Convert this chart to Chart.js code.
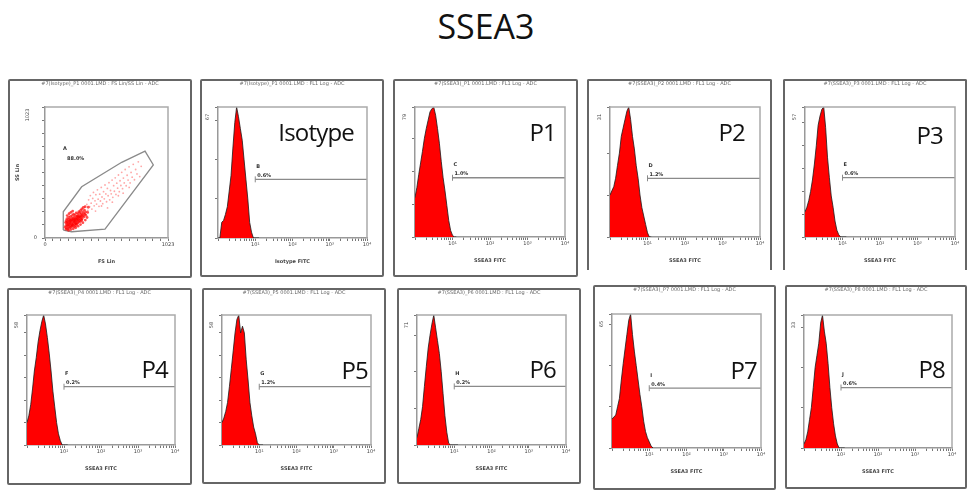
<!DOCTYPE html>
<html>
<head>
<meta charset="utf-8">
<script src="https://cdn.jsdelivr.net/npm/chart.js@4.4.0/dist/chart.umd.min.js"></script>
<style>
  body { margin: 0; width: 972px; height: 502px; background: #fff; position: relative; overflow: hidden;
         font-family: "Open Sans", "Noto Sans", sans-serif; }
  .box { position: absolute; border: 2px solid #666; border-radius: 2px; box-sizing: border-box; }
  .box.open { border-bottom: none; border-radius: 2px 2px 0 0; }
  canvas { position: absolute; }
  .tag { position: absolute; width: 200px; text-align: right; font-size: 24px; line-height: 24px; color: #111; letter-spacing: -0.8px; }
  #title { position: absolute; left: 0; width: 972px; top: 6px; text-align: center; font-size: 34px; line-height: 40px; color: #111; }
</style>
</head>
<body>
<div id="title">SSEA3</div>
<script>
// --- data ---
const panelNames = ["Isotype", "P1", "P2", "P3", "P4", "P5", "P6", "P7", "P8"];
const xTitles = ["Isotype FITC", "SSEA3 FITC", "SSEA3 FITC", "SSEA3 FITC", "SSEA3 FITC",
                 "SSEA3 FITC", "SSEA3 FITC", "SSEA3 FITC", "SSEA3 FITC"];
const headers = ["#7(Isotype)_P1 0001.LMD : FL1 Log - ADC", "#7(SSEA3)_P1 0001.LMD : FL1 Log - ADC",
                 "#7(SSEA3)_P2 0001.LMD : FL1 Log - ADC", "#7(SSEA3)_P3 0001.LMD : FL1 Log - ADC",
                 "#7(SSEA3)_P4 0001.LMD : FL1 Log - ADC", "#7(SSEA3)_P5 0001.LMD : FL1 Log - ADC",
                 "#7(SSEA3)_P6 0001.LMD : FL1 Log - ADC", "#7(SSEA3)_P7 0001.LMD : FL1 Log - ADC",
                 "#7(SSEA3)_P8 0001.LMD : FL1 Log - ADC"];

// histogram bin centres (FL1 log) and counts per sample
const binX = [1, 1.12, 1.26, 1.41, 1.58, 1.78, 2, 2.24, 2.51, 2.82, 3.16, 3.55,
              3.98, 4.47, 5.01, 5.62, 6.31, 7.08, 7.94, 8.91, 10, 11.2, 12.6];
const isoCounts = [0, 0, 8, 9, 12, 16, 24, 32, 46, 59, 67, 62, 56, 50, 40, 30, 20, 8, 3, 0, 0, 0, 0];
const p1Counts = [24, 30, 38, 45, 52, 60, 66, 71, 76, 78, 79, 74, 66, 57, 46, 36, 28, 19, 10, 4, 1, 0, 0];
const p2Counts = [10, 11, 12, 14, 17, 20, 24, 26, 28, 30, 31, 28, 24, 21, 17, 14, 10, 7, 5, 3, 1, 0, 0];
const p3Counts = [11, 13, 16, 20, 25, 32, 40, 49, 53, 56, 57, 48, 35, 26, 18, 13, 7, 3, 1, 0, 0, 0, 0];
const p4Counts = [10, 13, 18, 25, 33, 39, 46, 51, 55, 58, 54, 48, 41, 33, 24, 17, 10, 5, 2, 0, 0, 0, 0];
const p5Counts = [10, 12, 15, 19, 26, 34, 42, 50, 56, 58, 50, 53, 50, 38, 29, 19, 13, 8, 5, 1, 0, 0, 0];
const p6Counts = [4, 9, 14, 21, 32, 43, 53, 60, 66, 71, 64, 57, 50, 40, 28, 16, 7, 1, 0, 0, 0, 0, 0];
const p7Counts = [14, 15, 16, 20, 24, 33, 41, 48, 55, 62, 65, 55, 47, 40, 33, 26, 20, 13, 8, 5, 3, 1, 0];
const p8Counts = [1, 2, 4, 7, 10, 15, 20, 23, 26, 31, 33, 29, 26, 21, 15, 10, 6, 3, 1, 0, 0, 0, 0];
const histCounts = [isoCounts, p1Counts, p2Counts, p3Counts, p4Counts, p5Counts, p6Counts, p7Counts, p8Counts];
const yMax = [67, 79, 31, 57, 58, 58, 71, 65, 33];

// marker gate
const gateLevel = [30, 36, 14, 26, 26, 26, 32, 29, 15];
const gateFrom = 10, gateTo = 10000;
const gateLetters = ["B", "C", "D", "E", "F", "G", "H", "I", "J"];
const gatePct = ["0.6%", "1.0%", "1.2%", "0.6%", "0.2%", "1.2%", "0.2%", "0.4%", "0.6%"];

const logTicks = [1, 2, 3, 4, 5, 6, 7, 8, 9, 10, 20, 30, 40, 50, 60, 70, 80, 90,
                  100, 200, 300, 400, 500, 600, 700, 800, 900, 1000, 2000, 3000, 4000,
                  5000, 6000, 7000, 8000, 9000, 10000];
const logLabels = { 10: "10¹", 100: "10²", 1000: "10³", 10000: "10⁴" };

// FS/SS scatter (linear channels)
const fsTicks = [0, 64, 128, 192, 256, 320, 384, 448, 512, 576, 640, 704, 768, 832, 896, 960, 1023];
const ssTicks = [0, 102, 205, 307, 409, 512, 614, 716, 818, 921, 1023];
// main population (dense)
const coreEvents = [
  [168,84],[171,121],[174,97],[177,138],[179,76],[181,109],[183,152],[186,93],[188,128],[190,71],
  [192,116],[194,143],[196,86],[198,161],[200,102],[202,131],[204,79],[206,148],[208,112],[210,94],
  [212,169],[214,126],[216,83],[218,139],[220,105],[222,157],[224,91],[226,118],[228,176],[230,134],
  [232,99],[234,151],[236,113],[238,187],[240,124],[242,88],[244,163],[246,141],[248,107],[250,179],
  [252,130],[254,96],[256,158],[258,119],[260,196],[262,144],[264,108],[266,171],[268,133],[270,154],
  [272,117],[274,190],[276,140],[278,163],[280,125],[282,206],[284,150],[286,177],[288,137],[290,198],
  [292,160],[294,128],[296,215],[298,172],[300,146],[302,191],[304,163],[306,227],[308,181],[310,152],
  [313,206],[316,174],[319,238],[322,193],[325,166],[328,218],[331,187],[334,245],[337,204],[340,178],
  [185,175],[200,190],[215,200],[230,210],[175,68],[195,60],[215,66],[235,72],[255,80],[275,92],
  [295,105],[315,120],[335,140],[350,160],[355,200],[360,240],[205,118],[225,142],[245,128],[265,150],
  [285,165],[305,137],[190,102],[250,145],[180,125],[210,135],[240,145],[270,170],[226,100],[256,112]
];
// scattered large/granular events
const tailEvents = [
  [348,262],[356,215],[363,298],[371,244],[377,331],[384,272],[390,226],[397,309],[403,356],[409,251],
  [416,290],[423,338],[429,265],[436,376],[442,303],[449,247],[455,342],[461,289],[468,395],[474,320],
  [480,268],[487,362],[493,306],[499,414],[506,344],[512,283],[519,387],[525,330],[532,432],[538,298],
  [545,371],[551,345],[558,452],[564,318],[571,409],[577,365],[584,470],[590,340],[597,428],[604,389],
  [611,492],[618,362],[624,447],[631,410],[638,513],[645,385],[652,468],[659,430],[667,535],[675,408],
  [683,490],[691,452],[699,556],[708,430],[716,512],[725,475],[734,575],[744,455],[754,535],[765,500],
  [776,595],[788,480],[800,560],[420,210],[470,250],[520,235],[560,280],[610,330],[650,350],[700,395]
];
const gateFS = [152, 152, 305, 638, 832, 901, 499, 222, 152];
const gateSS = [62, 205, 400, 591, 679, 570, 70, 49, 62];
const scatterGate = { letter: "A", pct: "88.0%", fs: 150, ss: 700 };

// --- layout (page pixels) ---
// box: left, top, width, height, open bottom
const scatterBox = [8, 79, 184, 199, 0];
const scatterPlot = [45, 107, 168, 238];
const boxes = [
  [200, 79, 184, 198, 0], [393, 79, 185, 198, 0], [587, 79, 185, 191, 1], [783, 79, 184, 191, 1],
  [7, 288, 185, 197, 0], [202, 288, 184, 196, 0], [397, 288, 184, 196, 0], [593, 285, 183, 205, 0],
  [785, 285, 182, 204, 0]
];
// plot area: left, top, right, bottom
const plots = [
  [218, 107, 367, 238], [415, 107, 565, 237], [610, 107, 760, 237], [805, 107, 955, 237],
  [27, 315, 175, 445], [222, 315, 371, 445], [417, 315, 566, 445], [612, 314, 761, 448],
  [804, 315, 952, 448]
];
// big sample tag: right edge, top
const tags = [[354, 120], [556, 120], [745, 120], [943, 123], [168, 357], [368, 358],
              [556, 357], [757, 358], [945, 357]];

Chart.defaults.font.family = '"DejaVu Sans", sans-serif';
Chart.defaults.font.size = 5;
Chart.defaults.color = "#444";

function addBox(b) {
  const d = document.createElement("div");
  d.className = "box" + (b[4] ? " open" : "");
  d.style.left = b[0] + "px"; d.style.top = b[1] + "px";
  d.style.width = b[2] + "px"; d.style.height = b[3] + "px";
  document.body.appendChild(d);
}

function addCanvas(p) {
  const c = document.createElement("canvas");
  c.width = p[2] - p[0] + 50;
  c.height = p[3] - p[1] + 70;
  c.style.left = (p[0] - 30) + "px";
  c.style.top = (p[1] - 30) + "px";
  document.body.appendChild(c);
  return c;
}

// frame, header and small annotations
function decor(box, plot, draw) {
  return {
    id: "decor",
    afterDraw(chart) {
      const { ctx, chartArea: a } = chart;
      ctx.save();
      ctx.strokeStyle = "#aaa"; ctx.lineWidth = 1.5;
      ctx.beginPath();
      ctx.moveTo(a.left, a.top); ctx.lineTo(a.right, a.top); ctx.lineTo(a.right, a.bottom);
      ctx.stroke();
      ctx.fillStyle = "#666";
      ctx.font = '5px "DejaVu Sans"';
      ctx.textAlign = "center"; ctx.textBaseline = "middle";
      ctx.fillText(box.header, box[0] + box[2] / 2 - (plot[0] - 30), box[1] + 5 - (plot[1] - 30));
      draw(chart, ctx, a);
      ctx.restore();
    }
  };
}

function vText(ctx, txt, x, y) {
  ctx.save();
  ctx.translate(x, y); ctx.rotate(-Math.PI / 2);
  ctx.textAlign = "center"; ctx.textBaseline = "middle";
  ctx.fillText(txt, 0, 0);
  ctx.restore();
}

const baseOpts = {
  responsive: false, animation: false, events: [],
  plugins: { legend: { display: false }, tooltip: { enabled: false } },
  layout: { padding: { left: 20, top: 30, right: 20, bottom: 10 } }
};

// --- scatter panel ---
(function () {
  addBox(scatterBox);
  scatterBox.header = "#7(Isotype)_P1 0001.LMD : FS Lin/SS Lin - ADC";
  const c = addCanvas(scatterPlot);
  new Chart(c, {
    type: "scatter",
    data: { datasets: [
      { data: tailEvents.map((e) => ({ x: e[0], y: e[1] })), pointRadius: 0.9, borderWidth: 0,
        backgroundColor: "rgba(255,60,60,0.45)" },
      { data: coreEvents.map((e) => ({ x: e[0], y: e[1] })), pointRadius: 1.4, borderWidth: 0,
        backgroundColor: "rgba(255,0,0,0.7)" },
      { data: gateFS.map((v, k) => ({ x: v, y: gateSS[k] })), showLine: true, pointRadius: 0,
        borderColor: "#8a8a8a", borderWidth: 1.3, fill: false }
    ]},
    options: Object.assign({}, baseOpts, {
      layout: { padding: { left: 0, top: 30, right: 20, bottom: 10 } },
      scales: {
        x: { type: "linear", min: 0, max: 1023,
             afterBuildTicks: (s) => { s.ticks = fsTicks.map((v) => ({ value: v })); },
             afterFit: (s) => { s.height = 30; },
             ticks: { autoSkip: false, maxRotation: 0, padding: 1,
                      callback: (v) => (v === 0 || v === 1023 ? String(v) : "") },
             grid: { drawOnChartArea: false, tickLength: 3, color: "#777" },
             border: { color: "#999", width: 1.5 },
             title: { display: true, text: "FS Lin", font: { size: 5, weight: "bold" }, padding: { top: 0, bottom: 3 } } },
        y: { type: "linear", min: 0, max: 1023,
             afterBuildTicks: (s) => { s.ticks = ssTicks.map((v) => ({ value: v })); },
             afterFit: (s) => { s.width = 30; },
             ticks: { display: false },
             grid: { drawOnChartArea: false, tickLength: 3, color: "#777" },
             border: { color: "#999", width: 1.5 },
             title: { display: true, text: "SS Lin", font: { size: 5, weight: "bold" }, padding: 0 } }
      }
    }),
    plugins: [decor(scatterBox, scatterPlot, (chart, ctx, a) => {
      const sx = chart.scales.x, sy = chart.scales.y;
      ctx.fillStyle = "#444";
      vText(ctx, "1023", a.left - 17, sy.getPixelForValue(1023) + 8);
      ctx.textAlign = "right";
      ctx.fillText("0", a.left - 8, sy.getPixelForValue(0));
      ctx.fillStyle = "#333";
      ctx.font = 'bold 5px "DejaVu Sans"';
      ctx.textAlign = "left";
      const gx = sx.getPixelForValue(scatterGate.fs), gy = sy.getPixelForValue(scatterGate.ss);
      ctx.fillText(scatterGate.letter, gx, gy);
      ctx.fillText(scatterGate.pct, gx + 4, gy + 10);
    })]
  });
})();

// --- histogram panels ---
panelNames.forEach((name, i) => {
  const box = boxes[i], plot = plots[i];
  box.header = headers[i];
  addBox(box);
  const c = addCanvas(plot);
  new Chart(c, {
    type: "scatter",
    data: { datasets: [
      { data: binX.map((x, k) => ({ x: x, y: histCounts[i][k] })), showLine: true, fill: "origin",
        backgroundColor: "#ff0000", borderColor: "#1a1a1a", borderWidth: 0.8, pointRadius: 0 },
      { data: [{ x: gateFrom, y: gateLevel[i] }, { x: gateTo, y: gateLevel[i] }], showLine: true,
        borderColor: "#8a8a8a", borderWidth: 1.3, fill: false, pointStyle: "line", rotation: 90,
        pointRadius: [3, 0], pointBorderColor: "#8a8a8a", pointBorderWidth: 1 }
    ]},
    options: Object.assign({}, baseOpts, {
      scales: {
        x: { type: "logarithmic", min: 1, max: 10000,
             afterBuildTicks: (s) => { s.ticks = logTicks.map((v) => ({ value: v })); },
             afterFit: (s) => { s.height = 30; },
             ticks: { autoSkip: false, maxRotation: 0, padding: 1, callback: (v) => logLabels[v] || "" },
             grid: { drawOnChartArea: false, tickLength: 3, color: "#777" },
             border: { color: "#999", width: 1.5 },
             title: { display: true, text: xTitles[i], font: { size: 5, weight: "bold" }, padding: { top: 0, bottom: 3 } } },
        y: { type: "linear", min: 0, max: yMax[i],
             afterFit: (s) => { s.width = 10; },
             ticks: { display: false, maxTicksLimit: 7 },
             grid: { drawOnChartArea: false, tickLength: 3, color: "#777" },
             border: { color: "#999", width: 1.5 } }
      }
    }),
    plugins: [decor(box, plot, (chart, ctx, a) => {
      const sx = chart.scales.x, sy = chart.scales.y;
      ctx.fillStyle = "#444";
      vText(ctx, String(yMax[i]), a.left - 10, sy.getPixelForValue(yMax[i]) + 10);
      ctx.fillStyle = "#333";
      ctx.font = 'bold 5px "DejaVu Sans"';
      ctx.textAlign = "left";
      const gx = sx.getPixelForValue(gateFrom), gy = sy.getPixelForValue(gateLevel[i]);
      ctx.fillText(gateLetters[i], gx + 1, gy - 13);
      ctx.fillText(gatePct[i], gx + 2, gy - 4);
    })]
  });

  const t = document.createElement("div");
  t.className = "tag";
  t.textContent = name;
  t.style.left = (tags[i][0] - 200) + "px";
  t.style.top = tags[i][1] + "px";
  document.body.appendChild(t);
});
</script>
</body>
</html>
